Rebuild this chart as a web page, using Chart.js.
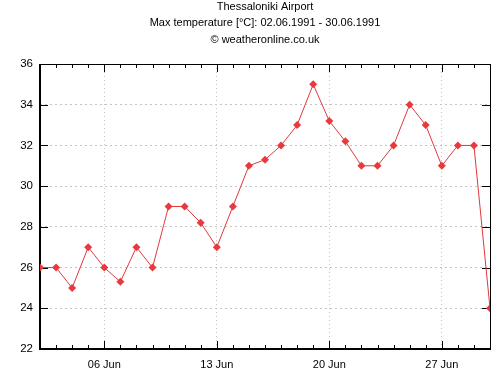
<!DOCTYPE html>
<html><head><meta charset="utf-8">
<script src="https://cdn.jsdelivr.net/npm/chart.js@4/dist/chart.umd.min.js"></script>
<style>html,body{margin:0;padding:0;background:#fff}#wrap{width:504px;height:374px}</style>
</head><body><div id="wrap"><canvas id="c" width="504" height="374"></canvas></div>
<script>
const titleLines = ["Thessaloniki Airport", "Max temperature [°C]: 02.06.1991 - 30.06.1991", "© weatheronline.co.uk"];
const days = [2,3,4,5,6,7,8,9,10,11,12,13,14,15,16,17,18,19,20,21,22,23,24,25,26,27,28,29,30];
const maxTemp = [26,26,25,27,26,25.3,27,26,29,29,28.2,27,29,31,31.3,32,33,35,33.2,32.2,31,31,32,34,33,31,32,32,24];
const xLabelDays = [6,13,20,27];
const xLabelText = {6:"06 Jun",13:"13 Jun",20:"20 Jun",27:"27 Jun"};
const yMin = 22, yMax = 36, yStep = 2;

const FONT = "'Liberation Sans', Arial, sans-serif";

const framePlugin = {
  id: 'frame',
  beforeDatasetsDraw(chart) {
    const {ctx, chartArea: a, scales} = chart;
    ctx.save();
    ctx.strokeStyle = '#000';
    ctx.lineWidth = 1;
    for (let d = days[0]; d <= days[days.length-1]; d++) {
      const x = Math.round(scales.x.getPixelForValue(d)) + 0.5;
      const len = xLabelDays.includes(d) ? 8 : 4;
      ctx.beginPath();
      ctx.moveTo(x, a.bottom); ctx.lineTo(x, a.bottom - len);
      ctx.moveTo(x, a.top); ctx.lineTo(x, a.top + len);
      ctx.stroke();
    }
    for (let v = yMin; v <= yMax; v += yStep) {
      const y = Math.round(scales.y.getPixelForValue(v)) + 0.5;
      ctx.beginPath();
      ctx.moveTo(a.left, y); ctx.lineTo(a.left + 8, y);
      ctx.moveTo(a.right, y); ctx.lineTo(a.right - 8, y);
      ctx.stroke();
    }
    // top & right 1px
    ctx.beginPath();
    ctx.moveTo(Math.round(a.left), Math.round(a.top) + 0.5);
    ctx.lineTo(Math.round(a.right) + 0.5, Math.round(a.top) + 0.5);
    ctx.lineTo(Math.round(a.right) + 0.5, Math.round(a.bottom));
    ctx.stroke();
    // left & bottom 2px
    ctx.lineWidth = 2;
    ctx.beginPath();
    ctx.moveTo(Math.round(a.left), Math.round(a.top));
    ctx.lineTo(Math.round(a.left), Math.round(a.bottom));
    ctx.lineTo(Math.round(a.right) + 1, Math.round(a.bottom));
    ctx.stroke();
    ctx.restore();
  },
  afterDraw(chart) {
    const {ctx, chartArea: a} = chart;
    ctx.save();
    ctx.fillStyle = '#000';
    ctx.font = "11px " + FONT;
    ctx.textAlign = 'center';
    ctx.textBaseline = 'middle';
    const ys = [6.5, 23, 39.5];
    const cx = (a.left + a.right) / 2;
    titleLines.forEach((t, i) => ctx.fillText(t, cx, ys[i]));
    ctx.restore();
  }
};

new Chart(document.getElementById('c'), {
  type: 'line',
  data: {
    datasets: [{
      data: days.map((d, i) => ({x: d, y: maxTemp[i]})),
      borderColor: '#e0393b',
      backgroundColor: '#e8393e',
      borderWidth: 1,
      pointStyle: 'rectRot',
      pointRadius: 4,
      pointBorderWidth: 0,
      pointHoverRadius: 4,
      tension: 0
    }]
  },
  options: {
    responsive: false,
    animation: false,
    events: [],
    layout: {padding: {top: 64, right: 14, left: 0, bottom: 0}},
    plugins: {legend: {display: false}, title: {display: false}, tooltip: {enabled: false}},
    scales: {
      x: {
        type: 'linear',
        min: days[0], max: days[days.length-1],
        afterBuildTicks(scale) { scale.ticks = xLabelDays.map(v => ({value: v})); },
        afterFit(scale) { scale.height = 25; },
        ticks: {
          autoSkip: false, maxRotation: 0,
          padding: 9,
          color: '#000',
          font: {family: FONT, size: 11},
          callback: v => xLabelText[v] || ''
        },
        border: {display: false, dash: [1, 3]},
        grid: {color: '#c4c4c4', lineWidth: 1, drawTicks: false, tickLength: 0},
      },
      y: {
        min: yMin, max: yMax,
        afterFit(scale) { scale.width = 40; },
        ticks: {stepSize: yStep, padding: 7, color: '#000', font: {family: FONT, size: 11.5}},
        border: {display: false, dash: [2, 3]},
        grid: {
          color: ctx => (ctx.tick && (ctx.tick.value === yMin || ctx.tick.value === yMax)) ? 'rgba(0,0,0,0)' : '#c4c4c4',
          lineWidth: 1, drawTicks: false, tickLength: 0
        }
      }
    }
  },
  plugins: [framePlugin]
});
</script>
</body></html>
